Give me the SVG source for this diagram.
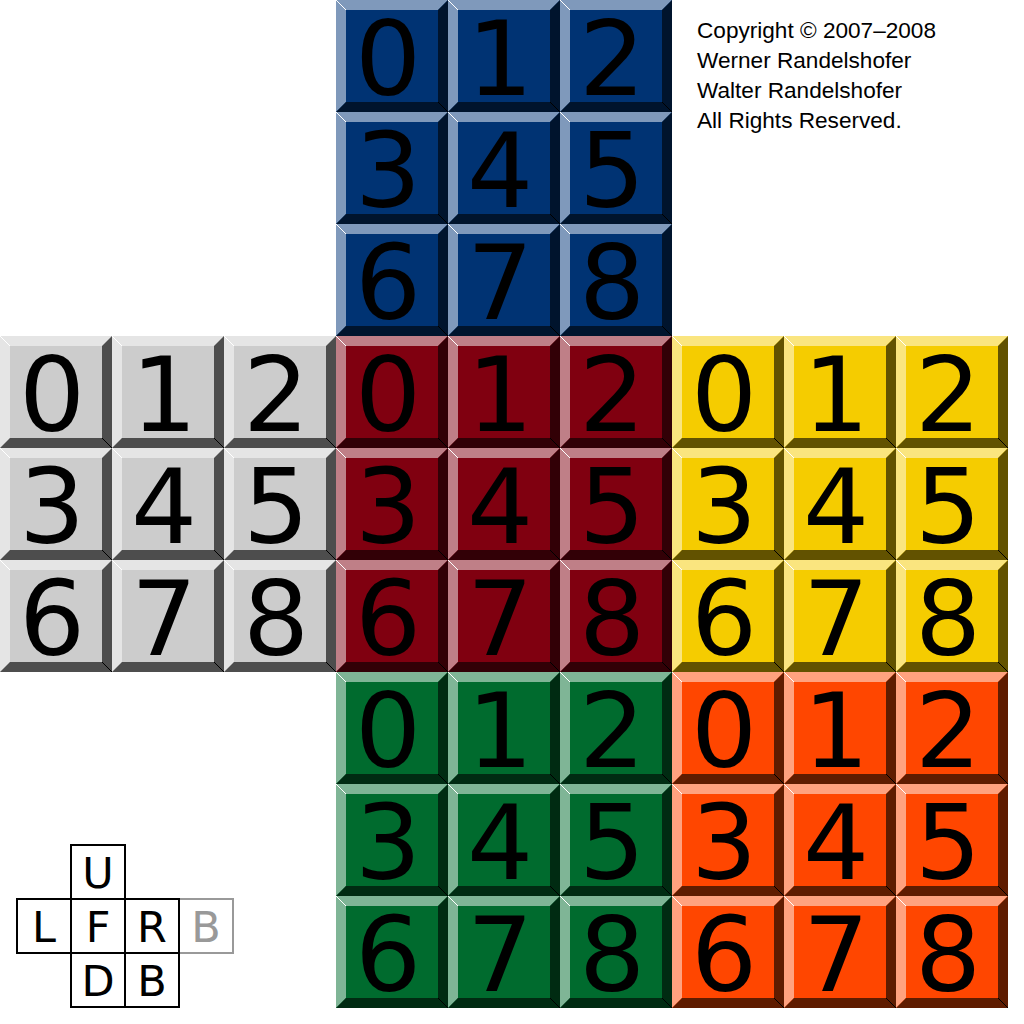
<svg xmlns="http://www.w3.org/2000/svg" xmlns:xlink="http://www.w3.org/1999/xlink" width="1024" height="1024" viewBox="0 0 1024 1024">
<style>
.U{--base:#003373;--hl:#7f99bb;--sh:#00142d}
.L{--base:#cccccc;--hl:#e5e5e5;--sh:#4d4d4d}
.F{--base:#800010;--hl:#bf7f87;--sh:#320006}
.R{--base:#f5cc00;--hl:#fae57f;--sh:#625200}
.D{--base:#006b2e;--hl:#7fb596;--sh:#002b12}
.B{--base:#ff4600;--hl:#ffa27f;--sh:#5f1c00}
.base{fill:var(--base)}
.hl{fill:var(--hl)}
.sh{fill:var(--sh)}
.d{font-family:"DejaVu Sans",Verdana,sans-serif;font-size:104px;text-anchor:middle;fill:#000}
.c{font-family:"Liberation Sans",Arial,sans-serif;font-size:22.6px;fill:#000}
.lg rect{fill:#fff;stroke:#000;stroke-width:2}
.lg text{font-family:"DejaVu Sans",sans-serif;font-size:43px;text-anchor:middle;fill:#000}
</style>
<defs>
<g id="tile">
<rect class="base" width="112" height="112"/>
<path class="hl" d="M0 0H112L102 10H10V102L0 112Z"/>
<path class="sh" d="M112 0V112H0L10 102H102V10Z"/>
<path d="M0 0L10 10" stroke="#fff" stroke-width="1"/>
<path d="M102 102L112 112" stroke="#000" stroke-width="1"/>
</g>
</defs>
<rect width="1024" height="1024" fill="#fff"/>
<g id="face-U" class="U" transform="translate(336,0)">
<use href="#tile" x="0" y="0"/><use href="#tile" x="112" y="0"/><use href="#tile" x="224" y="0"/>
<use href="#tile" x="0" y="112"/><use href="#tile" x="112" y="112"/><use href="#tile" x="224" y="112"/>
<use href="#tile" x="0" y="224"/><use href="#tile" x="112" y="224"/><use href="#tile" x="224" y="224"/>
<text class="d" x="52" y="95">0</text><text class="d" x="164" y="95">1</text><text class="d" x="276" y="95">2</text>
<text class="d" x="52" y="207">3</text><text class="d" x="164" y="207">4</text><text class="d" x="276" y="207">5</text>
<text class="d" x="52" y="319">6</text><text class="d" x="164" y="319">7</text><text class="d" x="276" y="319">8</text>
</g>
<g id="face-L" class="L" transform="translate(0,336)">
<use href="#tile" x="0" y="0"/><use href="#tile" x="112" y="0"/><use href="#tile" x="224" y="0"/>
<use href="#tile" x="0" y="112"/><use href="#tile" x="112" y="112"/><use href="#tile" x="224" y="112"/>
<use href="#tile" x="0" y="224"/><use href="#tile" x="112" y="224"/><use href="#tile" x="224" y="224"/>
<text class="d" x="52" y="95">0</text><text class="d" x="164" y="95">1</text><text class="d" x="276" y="95">2</text>
<text class="d" x="52" y="207">3</text><text class="d" x="164" y="207">4</text><text class="d" x="276" y="207">5</text>
<text class="d" x="52" y="319">6</text><text class="d" x="164" y="319">7</text><text class="d" x="276" y="319">8</text>
</g>
<g id="face-F" class="F" transform="translate(336,336)">
<use href="#tile" x="0" y="0"/><use href="#tile" x="112" y="0"/><use href="#tile" x="224" y="0"/>
<use href="#tile" x="0" y="112"/><use href="#tile" x="112" y="112"/><use href="#tile" x="224" y="112"/>
<use href="#tile" x="0" y="224"/><use href="#tile" x="112" y="224"/><use href="#tile" x="224" y="224"/>
<text class="d" x="52" y="95">0</text><text class="d" x="164" y="95">1</text><text class="d" x="276" y="95">2</text>
<text class="d" x="52" y="207">3</text><text class="d" x="164" y="207">4</text><text class="d" x="276" y="207">5</text>
<text class="d" x="52" y="319">6</text><text class="d" x="164" y="319">7</text><text class="d" x="276" y="319">8</text>
</g>
<g id="face-R" class="R" transform="translate(672,336)">
<use href="#tile" x="0" y="0"/><use href="#tile" x="112" y="0"/><use href="#tile" x="224" y="0"/>
<use href="#tile" x="0" y="112"/><use href="#tile" x="112" y="112"/><use href="#tile" x="224" y="112"/>
<use href="#tile" x="0" y="224"/><use href="#tile" x="112" y="224"/><use href="#tile" x="224" y="224"/>
<text class="d" x="52" y="95">0</text><text class="d" x="164" y="95">1</text><text class="d" x="276" y="95">2</text>
<text class="d" x="52" y="207">3</text><text class="d" x="164" y="207">4</text><text class="d" x="276" y="207">5</text>
<text class="d" x="52" y="319">6</text><text class="d" x="164" y="319">7</text><text class="d" x="276" y="319">8</text>
</g>
<g id="face-D" class="D" transform="translate(336,672)">
<use href="#tile" x="0" y="0"/><use href="#tile" x="112" y="0"/><use href="#tile" x="224" y="0"/>
<use href="#tile" x="0" y="112"/><use href="#tile" x="112" y="112"/><use href="#tile" x="224" y="112"/>
<use href="#tile" x="0" y="224"/><use href="#tile" x="112" y="224"/><use href="#tile" x="224" y="224"/>
<text class="d" x="52" y="95">0</text><text class="d" x="164" y="95">1</text><text class="d" x="276" y="95">2</text>
<text class="d" x="52" y="207">3</text><text class="d" x="164" y="207">4</text><text class="d" x="276" y="207">5</text>
<text class="d" x="52" y="319">6</text><text class="d" x="164" y="319">7</text><text class="d" x="276" y="319">8</text>
</g>
<g id="face-B" class="B" transform="translate(672,672)">
<use href="#tile" x="0" y="0"/><use href="#tile" x="112" y="0"/><use href="#tile" x="224" y="0"/>
<use href="#tile" x="0" y="112"/><use href="#tile" x="112" y="112"/><use href="#tile" x="224" y="112"/>
<use href="#tile" x="0" y="224"/><use href="#tile" x="112" y="224"/><use href="#tile" x="224" y="224"/>
<text class="d" x="52" y="95">0</text><text class="d" x="164" y="95">1</text><text class="d" x="276" y="95">2</text>
<text class="d" x="52" y="207">3</text><text class="d" x="164" y="207">4</text><text class="d" x="276" y="207">5</text>
<text class="d" x="52" y="319">6</text><text class="d" x="164" y="319">7</text><text class="d" x="276" y="319">8</text>
</g>
<g id="copyright">
<text class="c" x="697" y="38">Copyright © 2007–2008</text>
<text class="c" x="697" y="68">Werner Randelshofer</text>
<text class="c" x="697" y="98">Walter Randelshofer</text>
<text class="c" x="697" y="128">All Rights Reserved.</text>
</g>
<g id="legend" class="lg">
<rect x="179" y="899" width="54" height="54" style="stroke:#999"/>
<text x="206" y="942" style="fill:#999">B</text>
<rect x="71" y="845" width="54" height="54"/><text x="98" y="888">U</text>
<rect x="17" y="899" width="54" height="54"/><text x="44" y="942">L</text>
<rect x="71" y="899" width="54" height="54"/><text x="98" y="942">F</text>
<rect x="125" y="899" width="54" height="54"/><text x="152" y="942">R</text>
<rect x="71" y="953" width="54" height="54"/><text x="98" y="996">D</text>
<rect x="125" y="953" width="54" height="54"/><text x="152" y="996">B</text>
</g>
<g id="connectors"/>
</svg>
